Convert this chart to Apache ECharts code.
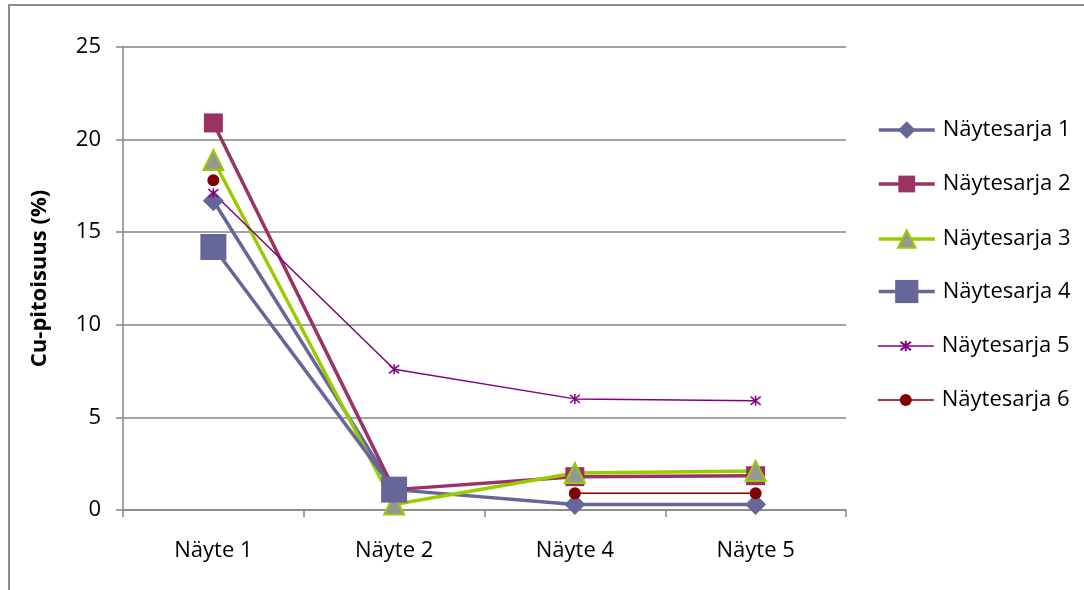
<!DOCTYPE html>
<html>
<head>
<meta charset="utf-8">
<script src="https://cdn.jsdelivr.net/npm/echarts@6/dist/echarts.min.js"></script>
<style>
  html, body { margin: 0; padding: 0; background: #ffffff; }
  #chart { width: 1084px; height: 590px; }
</style>
</head>
<body>
<div id="chart"></div>
<script>
// Category axis labels
const categories = ['Näyte 1', 'Näyte 2', 'Näyte 4', 'Näyte 5'];

// Cu content (%) per sample series
const sarja1 = [16.7, 1.1, 0.3, 0.3];
const sarja2 = [20.9, 1.1, 1.8, 1.85];
const sarja3 = [18.9, 0.3, 2.0, 2.1];
const sarja4 = [14.2, 1.1, null, null];
const sarja5 = [17.1, 7.6, 6.0, 5.9];
const sarja6 = [17.8, null, 0.9, 0.9];

const seriesNames = ['Näytesarja 1', 'Näytesarja 2', 'Näytesarja 3', 'Näytesarja 4', 'Näytesarja 5', 'Näytesarja 6'];

// Y axis ticks
const yMin = 0, yMax = 25, yStep = 5;

const FONT = 'Open Sans';
const FONT_SIZE = 22;
const GRID_GRAY = '#868686';
const ASTERISK = 'path://M0,0L10,10M0,10L10,0M5,-1L5,11';

const styles = [
  { symbol: 'diamond', size: 21, line: '#666699', width: 3.5, fill: '#666699', border: '#666699', bw: 0, legendH: 22 },
  { symbol: 'rect', size: 19, line: '#993366', width: 3.5, fill: '#993366', border: '#993366', bw: 0, legendH: 21 },
  { symbol: 'triangle', size: 20, line: '#99cc00', width: 3.5, fill: '#969696', border: '#99cc00', bw: 2, legendH: 22 },
  { symbol: 'rect', size: 26, line: '#666699', width: 3.5, fill: '#666699', border: '#666699', bw: 0, legendH: 29 },
  { symbol: ASTERISK, size: 10, line: '#800080', width: 1.5, fill: '#800080', border: '#800080', bw: 1.5, legendH: 13 },
  { symbol: 'circle', size: 12, line: '#800000', width: 1.5, fill: '#800000', border: '#800000', bw: 0, legendH: 15 }
];

const seriesData = [sarja1, sarja2, sarja3, sarja4, sarja5, sarja6];

// Vertical centers of the legend rows
const legendCenters = [130, 184, 239, 292, 346, 400];
const legendLineH = 28;

const legends = seriesNames.map((name, i) => ({
  data: [name],
  orient: 'vertical',
  left: 877,
  top: legendCenters[i] - Math.max(styles[i].legendH, legendLineH) / 2,
  padding: 0,
  itemWidth: 56,
  itemHeight: styles[i].legendH,
  itemGap: 0,
  selectedMode: false,
  lineStyle: { width: styles[i].width },
  textStyle: { fontFamily: FONT, fontSize: FONT_SIZE, color: '#000000', lineHeight: legendLineH, padding: [0, 0, 0, 3] }
}));

const series = seriesNames.map((name, i) => ({
  name: name,
  type: 'line',
  data: seriesData[i],
  symbol: styles[i].symbol,
  symbolSize: styles[i].size,
  showAllSymbol: true,
  connectNulls: false,
  animation: false,
  lineStyle: { color: styles[i].line, width: styles[i].width },
  itemStyle: { color: styles[i].fill, borderColor: styles[i].border, borderWidth: styles[i].bw, opacity: 1 }
}));

const chart = echarts.init(document.getElementById('chart'), null, { renderer: 'canvas' });
chart.setOption({
  backgroundColor: '#ffffff',
  animation: false,
  textStyle: { fontFamily: FONT },
  graphic: [{
    type: 'rect',
    shape: { x: 9, y: 5, width: 1200, height: 700 },
    style: { fill: 'none', stroke: '#8c8c8c', lineWidth: 2 },
    silent: true,
    z: -10
  }],
  legend: legends,
  grid: { left: 123, right: 238, top: 47, bottom: 80, containLabel: false },
  xAxis: {
    type: 'category',
    data: categories,
    boundaryGap: true,
    axisLine: { show: true, lineStyle: { color: GRID_GRAY, width: 1.5 } },
    axisTick: { show: true, length: 7, inside: false, lineStyle: { color: GRID_GRAY, width: 1.5 } },
    axisLabel: { fontFamily: FONT, fontSize: FONT_SIZE, color: '#000000', margin: 30 },
    splitLine: { show: false }
  },
  yAxis: {
    type: 'value',
    min: yMin,
    max: yMax,
    interval: yStep,
    name: 'Cu-pitoisuus (%)',
    nameLocation: 'middle',
    nameRotate: 90,
    nameGap: 72,
    nameTextStyle: { fontFamily: FONT, fontSize: 22, fontWeight: 'bold', color: '#000000' },
    axisLine: { show: true, lineStyle: { color: GRID_GRAY, width: 1.5 } },
    axisTick: { show: true, length: 7, inside: false, lineStyle: { color: GRID_GRAY, width: 1.5 } },
    axisLabel: { fontFamily: FONT, fontSize: FONT_SIZE, color: '#000000', margin: 22 },
    splitLine: { show: true, lineStyle: { color: GRID_GRAY, width: 1.5 } }
  },
  series: series
});
</script>
</body>
</html>
